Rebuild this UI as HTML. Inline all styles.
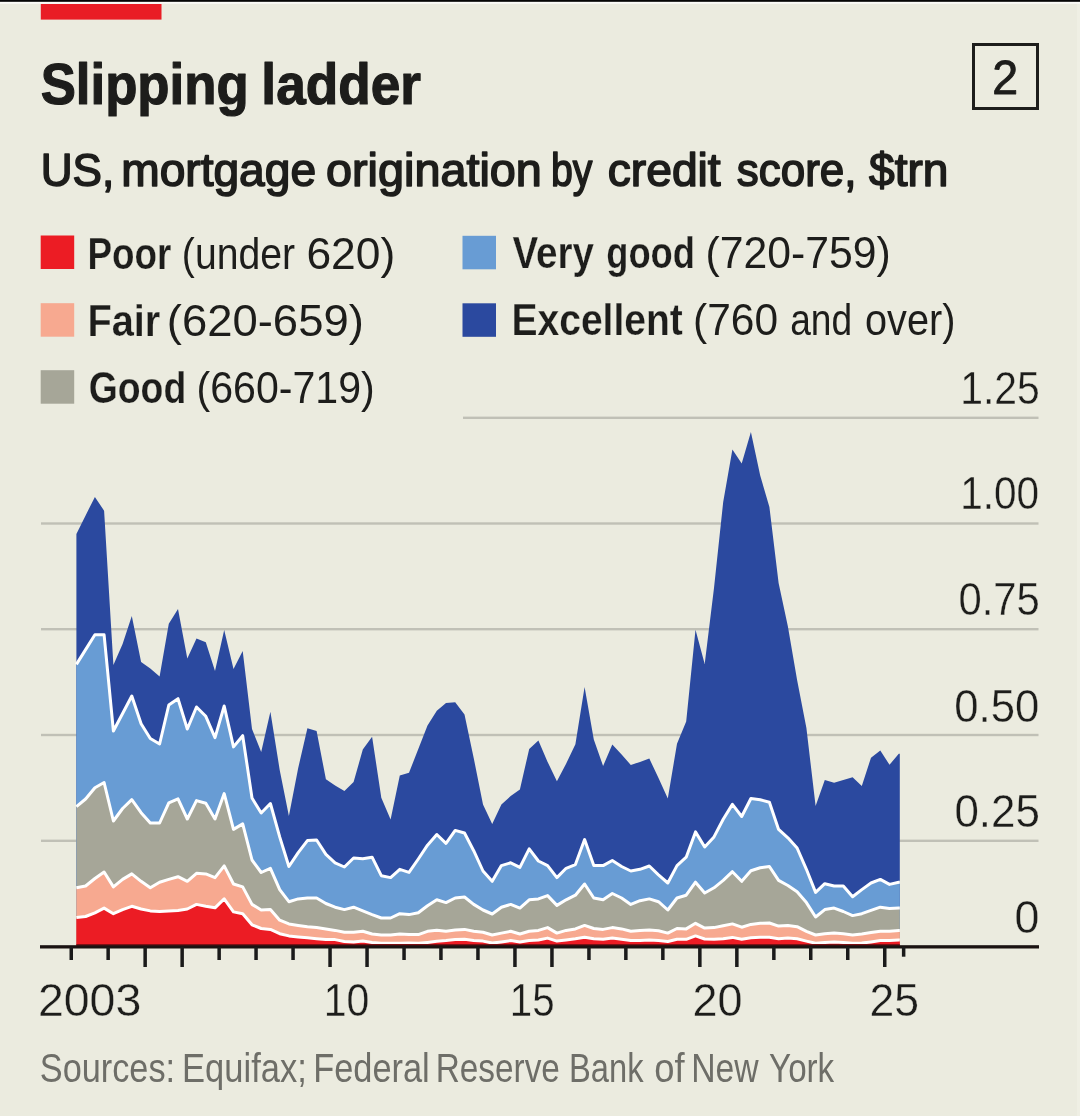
<!DOCTYPE html>
<html lang="en"><head><meta charset="utf-8"><title>Slipping ladder</title>
<style>html,body{margin:0;padding:0;background:#ebebdf}body{width:1080px;height:1116px;overflow:hidden}svg{display:block}text{font-family:"Liberation Sans",Arial,Helvetica,sans-serif}</style></head><body>
<svg width="1080" height="1116" viewBox="0 0 1080 1116">
<rect width="1080" height="1116" fill="#ebebdf"/>
<rect x="1077" y="0" width="3" height="1116" fill="#efefe4"/>
<rect x="0" y="0" width="1080" height="1.9" fill="#050505"/>
<rect x="0" y="1.9" width="1080" height="1.9" fill="#fbfbf7"/>
<rect x="40.8" y="4" width="120.7" height="15.6" fill="#e91d25"/>
<rect x="463" y="416.6" width="575.5" height="2.4" fill="#c0c0b6"/>
<rect x="41" y="522.3" width="997.5" height="2.4" fill="#c0c0b6"/>
<rect x="41" y="628.0" width="997.5" height="2.4" fill="#c0c0b6"/>
<rect x="41" y="733.8" width="997.5" height="2.4" fill="#c0c0b6"/>
<rect x="41" y="839.6" width="997.5" height="2.4" fill="#c0c0b6"/>
<path d="M76.4,946.5 L76.4,533.9 L85.6,515.4 L94.9,496.9 L104.1,510.7 L113.4,665.0 L122.6,644.0 L131.8,616.0 L141.1,662.0 L150.3,668.5 L159.6,676.5 L168.8,623.7 L178.0,608.9 L187.3,658.5 L196.5,638.5 L205.8,642.2 L215.0,671.0 L224.2,630.0 L233.5,669.0 L242.7,651.0 L252.0,729.0 L261.2,752.0 L270.4,711.7 L279.7,770.0 L288.9,816.0 L298.2,768.0 L307.4,728.3 L316.6,731.0 L325.9,779.3 L335.1,785.4 L344.4,791.0 L353.6,782.0 L362.8,749.6 L372.1,736.7 L381.3,797.8 L390.6,819.5 L399.8,775.6 L409.0,772.8 L418.3,749.0 L427.5,725.5 L436.8,710.8 L446.0,703.0 L455.2,702.2 L464.5,714.6 L473.7,758.0 L483.0,804.4 L492.2,823.9 L501.4,804.4 L510.7,796.0 L519.9,789.6 L529.2,748.9 L538.4,740.6 L547.6,761.9 L556.9,781.3 L566.1,763.7 L575.4,744.3 L584.6,686.9 L593.8,739.6 L603.1,766.0 L612.3,744.5 L621.6,754.4 L630.8,765.0 L640.0,761.9 L649.3,758.5 L658.5,778.0 L667.8,798.5 L677.0,743.7 L686.2,721.5 L695.5,629.8 L704.7,664.0 L714.0,588.0 L723.2,502.0 L732.4,449.6 L741.7,463.5 L750.9,432.0 L760.2,475.6 L769.4,507.0 L778.6,583.0 L787.9,626.5 L797.1,680.0 L806.4,728.0 L815.6,806.0 L824.8,780.0 L834.1,782.7 L843.3,780.0 L852.6,777.2 L861.8,786.0 L871.0,757.7 L880.3,750.4 L889.5,764.8 L898.8,753.7 L899.8,753.7 L899.8,946.5 Z" fill="#2b499f"/>
<path d="M76.4,946.5 L76.4,664.4 L85.6,649.6 L94.9,634.8 L104.1,634.8 L113.4,731.0 L122.6,713.5 L131.8,696.0 L141.1,723.7 L150.3,738.5 L159.6,744.0 L168.8,705.0 L178.0,698.7 L187.3,729.0 L196.5,707.0 L205.8,716.3 L215.0,737.6 L224.2,706.0 L233.5,746.9 L242.7,735.7 L252.0,798.0 L261.2,813.0 L270.4,803.5 L279.7,836.9 L288.9,866.5 L298.2,852.6 L307.4,840.6 L316.6,840.0 L325.9,854.4 L335.1,862.8 L344.4,867.0 L353.6,858.0 L362.8,858.7 L372.1,857.2 L381.3,875.7 L390.6,877.6 L399.8,869.3 L409.0,872.4 L418.3,859.0 L427.5,845.2 L436.8,834.5 L446.0,843.3 L455.2,830.4 L464.5,833.0 L473.7,850.7 L483.0,871.0 L492.2,881.3 L501.4,865.6 L510.7,862.8 L519.9,867.4 L529.2,848.9 L538.4,861.0 L547.6,865.6 L556.9,877.6 L566.1,868.3 L575.4,864.6 L584.6,839.6 L593.8,865.6 L603.1,865.6 L612.3,860.5 L621.6,866.5 L630.8,871.0 L640.0,869.3 L649.3,866.0 L658.5,874.8 L667.8,883.0 L677.0,865.6 L686.2,857.2 L695.5,831.9 L704.7,847.0 L714.0,836.9 L723.2,819.3 L732.4,804.4 L741.7,816.5 L750.9,798.5 L760.2,799.8 L769.4,802.2 L778.6,829.4 L787.9,837.8 L797.1,848.0 L806.4,869.3 L815.6,892.4 L824.8,883.7 L834.1,886.0 L843.3,886.0 L852.6,896.7 L861.8,889.6 L871.0,883.0 L880.3,879.4 L889.5,884.4 L898.8,882.2 L899.8,882.2 L899.8,946.5 Z" fill="#689cd4"/>
<path d="M76.4,946.5 L76.4,806.6 L85.6,799.0 L94.9,787.7 L104.1,782.5 L113.4,821.0 L122.6,808.5 L131.8,799.7 L141.1,812.7 L150.3,823.0 L159.6,823.0 L168.8,802.8 L178.0,798.8 L187.3,819.0 L196.5,800.6 L205.8,803.3 L215.0,819.0 L224.2,793.6 L233.5,829.4 L242.7,823.9 L252.0,860.0 L261.2,872.5 L270.4,868.3 L279.7,889.6 L288.9,901.7 L298.2,898.9 L307.4,898.0 L316.6,898.0 L325.9,903.5 L335.1,907.2 L344.4,909.6 L353.6,907.2 L362.8,910.9 L372.1,914.6 L381.3,918.0 L390.6,918.0 L399.8,913.7 L409.0,914.6 L418.3,912.8 L427.5,905.8 L436.8,899.8 L446.0,902.6 L455.2,898.0 L464.5,897.0 L473.7,904.4 L483.0,910.0 L492.2,914.0 L501.4,907.2 L510.7,904.4 L519.9,908.1 L529.2,899.8 L538.4,898.9 L547.6,895.6 L556.9,905.4 L566.1,899.8 L575.4,895.2 L584.6,884.0 L593.8,898.0 L603.1,899.8 L612.3,893.5 L621.6,898.0 L630.8,904.4 L640.0,900.7 L649.3,898.9 L658.5,901.7 L667.8,910.0 L677.0,898.0 L686.2,895.2 L695.5,882.2 L704.7,893.0 L714.0,887.8 L723.2,880.4 L732.4,871.7 L741.7,881.3 L750.9,870.7 L760.2,867.8 L769.4,866.5 L778.6,880.4 L787.9,885.5 L797.1,891.8 L806.4,902.6 L815.6,917.0 L824.8,909.6 L834.1,908.1 L843.3,911.5 L852.6,915.6 L861.8,913.7 L871.0,910.4 L880.3,907.2 L889.5,908.5 L898.8,908.1 L899.8,908.1 L899.8,946.5 Z" fill="#a6a698"/>
<path d="M76.4,946.5 L76.4,887.8 L85.6,886.0 L94.9,878.5 L104.1,872.0 L113.4,886.9 L122.6,879.4 L131.8,873.9 L141.1,881.3 L150.3,887.8 L159.6,882.2 L168.8,879.4 L178.0,876.7 L187.3,881.3 L196.5,873.3 L205.8,873.9 L215.0,877.6 L224.2,865.9 L233.5,884.0 L242.7,886.9 L252.0,904.4 L261.2,910.0 L270.4,909.6 L279.7,920.2 L288.9,923.9 L298.2,925.4 L307.4,926.7 L316.6,927.6 L325.9,928.9 L335.1,930.4 L344.4,932.2 L353.6,932.2 L362.8,931.3 L372.1,934.0 L381.3,935.0 L390.6,935.0 L399.8,934.0 L409.0,934.6 L418.3,934.6 L427.5,931.3 L436.8,930.2 L446.0,931.3 L455.2,930.0 L464.5,929.4 L473.7,931.3 L483.0,932.2 L492.2,935.0 L501.4,933.1 L510.7,931.3 L519.9,934.0 L529.2,931.3 L538.4,930.4 L547.6,927.6 L556.9,933.1 L566.1,930.4 L575.4,928.9 L584.6,925.4 L593.8,928.5 L603.1,929.4 L612.3,927.6 L621.6,928.9 L630.8,931.3 L640.0,930.4 L649.3,930.0 L658.5,930.7 L667.8,933.1 L677.0,928.5 L686.2,928.9 L695.5,923.3 L704.7,928.1 L714.0,927.6 L723.2,925.7 L732.4,923.9 L741.7,927.2 L750.9,924.4 L760.2,923.3 L769.4,923.0 L778.6,926.1 L787.9,925.4 L797.1,926.7 L806.4,931.3 L815.6,935.0 L824.8,933.7 L834.1,933.1 L843.3,933.7 L852.6,935.0 L861.8,934.0 L871.0,932.6 L880.3,931.3 L889.5,931.3 L898.8,930.4 L899.8,930.4 L899.8,946.5 Z" fill="#f7a990"/>
<path d="M76.4,946.5 L76.4,917.4 L85.6,916.5 L94.9,912.8 L104.1,908.1 L113.4,913.7 L122.6,909.6 L131.8,906.3 L141.1,909.0 L150.3,910.9 L159.6,911.5 L168.8,910.9 L178.0,910.4 L187.3,909.0 L196.5,904.4 L205.8,906.3 L215.0,907.8 L224.2,898.9 L233.5,911.9 L242.7,913.7 L252.0,924.8 L261.2,928.5 L270.4,929.4 L279.7,933.7 L288.9,935.9 L298.2,936.9 L307.4,937.8 L316.6,938.7 L325.9,939.6 L335.1,939.6 L344.4,941.5 L353.6,941.9 L362.8,941.1 L372.1,942.4 L381.3,943.3 L390.6,943.3 L399.8,943.3 L409.0,943.0 L418.3,943.3 L427.5,942.4 L436.8,941.3 L446.0,940.6 L455.2,939.6 L464.5,939.3 L473.7,940.6 L483.0,941.1 L492.2,943.0 L501.4,941.9 L510.7,940.6 L519.9,941.9 L529.2,940.6 L538.4,940.0 L547.6,938.1 L556.9,941.1 L566.1,940.0 L575.4,938.7 L584.6,937.2 L593.8,938.7 L603.1,939.3 L612.3,938.1 L621.6,939.3 L630.8,940.6 L640.0,940.6 L649.3,940.0 L658.5,940.6 L667.8,941.5 L677.0,939.3 L686.2,939.3 L695.5,935.9 L704.7,939.0 L714.0,939.3 L723.2,938.7 L732.4,937.4 L741.7,939.3 L750.9,937.8 L760.2,937.2 L769.4,937.2 L778.6,938.7 L787.9,938.1 L797.1,938.7 L806.4,941.1 L815.6,943.3 L824.8,942.4 L834.1,941.9 L843.3,942.4 L852.6,943.3 L861.8,943.0 L871.0,941.9 L880.3,940.6 L889.5,940.6 L898.8,940.0 L899.8,940.0 L899.8,946.5 Z" fill="#ec1c24"/>
<path d="M76.4,664.4 L85.6,649.6 L94.9,634.8 L104.1,634.8 L113.4,731.0 L122.6,713.5 L131.8,696.0 L141.1,723.7 L150.3,738.5 L159.6,744.0 L168.8,705.0 L178.0,698.7 L187.3,729.0 L196.5,707.0 L205.8,716.3 L215.0,737.6 L224.2,706.0 L233.5,746.9 L242.7,735.7 L252.0,798.0 L261.2,813.0 L270.4,803.5 L279.7,836.9 L288.9,866.5 L298.2,852.6 L307.4,840.6 L316.6,840.0 L325.9,854.4 L335.1,862.8 L344.4,867.0 L353.6,858.0 L362.8,858.7 L372.1,857.2 L381.3,875.7 L390.6,877.6 L399.8,869.3 L409.0,872.4 L418.3,859.0 L427.5,845.2 L436.8,834.5 L446.0,843.3 L455.2,830.4 L464.5,833.0 L473.7,850.7 L483.0,871.0 L492.2,881.3 L501.4,865.6 L510.7,862.8 L519.9,867.4 L529.2,848.9 L538.4,861.0 L547.6,865.6 L556.9,877.6 L566.1,868.3 L575.4,864.6 L584.6,839.6 L593.8,865.6 L603.1,865.6 L612.3,860.5 L621.6,866.5 L630.8,871.0 L640.0,869.3 L649.3,866.0 L658.5,874.8 L667.8,883.0 L677.0,865.6 L686.2,857.2 L695.5,831.9 L704.7,847.0 L714.0,836.9 L723.2,819.3 L732.4,804.4 L741.7,816.5 L750.9,798.5 L760.2,799.8 L769.4,802.2 L778.6,829.4 L787.9,837.8 L797.1,848.0 L806.4,869.3 L815.6,892.4 L824.8,883.7 L834.1,886.0 L843.3,886.0 L852.6,896.7 L861.8,889.6 L871.0,883.0 L880.3,879.4 L889.5,884.4 L898.8,882.2 L899.8,882.2" fill="none" stroke="#fff" stroke-width="3" stroke-linejoin="round"/>
<path d="M76.4,806.6 L85.6,799.0 L94.9,787.7 L104.1,782.5 L113.4,821.0 L122.6,808.5 L131.8,799.7 L141.1,812.7 L150.3,823.0 L159.6,823.0 L168.8,802.8 L178.0,798.8 L187.3,819.0 L196.5,800.6 L205.8,803.3 L215.0,819.0 L224.2,793.6 L233.5,829.4 L242.7,823.9 L252.0,860.0 L261.2,872.5 L270.4,868.3 L279.7,889.6 L288.9,901.7 L298.2,898.9 L307.4,898.0 L316.6,898.0 L325.9,903.5 L335.1,907.2 L344.4,909.6 L353.6,907.2 L362.8,910.9 L372.1,914.6 L381.3,918.0 L390.6,918.0 L399.8,913.7 L409.0,914.6 L418.3,912.8 L427.5,905.8 L436.8,899.8 L446.0,902.6 L455.2,898.0 L464.5,897.0 L473.7,904.4 L483.0,910.0 L492.2,914.0 L501.4,907.2 L510.7,904.4 L519.9,908.1 L529.2,899.8 L538.4,898.9 L547.6,895.6 L556.9,905.4 L566.1,899.8 L575.4,895.2 L584.6,884.0 L593.8,898.0 L603.1,899.8 L612.3,893.5 L621.6,898.0 L630.8,904.4 L640.0,900.7 L649.3,898.9 L658.5,901.7 L667.8,910.0 L677.0,898.0 L686.2,895.2 L695.5,882.2 L704.7,893.0 L714.0,887.8 L723.2,880.4 L732.4,871.7 L741.7,881.3 L750.9,870.7 L760.2,867.8 L769.4,866.5 L778.6,880.4 L787.9,885.5 L797.1,891.8 L806.4,902.6 L815.6,917.0 L824.8,909.6 L834.1,908.1 L843.3,911.5 L852.6,915.6 L861.8,913.7 L871.0,910.4 L880.3,907.2 L889.5,908.5 L898.8,908.1 L899.8,908.1" fill="none" stroke="#fff" stroke-width="3" stroke-linejoin="round"/>
<path d="M76.4,887.8 L85.6,886.0 L94.9,878.5 L104.1,872.0 L113.4,886.9 L122.6,879.4 L131.8,873.9 L141.1,881.3 L150.3,887.8 L159.6,882.2 L168.8,879.4 L178.0,876.7 L187.3,881.3 L196.5,873.3 L205.8,873.9 L215.0,877.6 L224.2,865.9 L233.5,884.0 L242.7,886.9 L252.0,904.4 L261.2,910.0 L270.4,909.6 L279.7,920.2 L288.9,923.9 L298.2,925.4 L307.4,926.7 L316.6,927.6 L325.9,928.9 L335.1,930.4 L344.4,932.2 L353.6,932.2 L362.8,931.3 L372.1,934.0 L381.3,935.0 L390.6,935.0 L399.8,934.0 L409.0,934.6 L418.3,934.6 L427.5,931.3 L436.8,930.2 L446.0,931.3 L455.2,930.0 L464.5,929.4 L473.7,931.3 L483.0,932.2 L492.2,935.0 L501.4,933.1 L510.7,931.3 L519.9,934.0 L529.2,931.3 L538.4,930.4 L547.6,927.6 L556.9,933.1 L566.1,930.4 L575.4,928.9 L584.6,925.4 L593.8,928.5 L603.1,929.4 L612.3,927.6 L621.6,928.9 L630.8,931.3 L640.0,930.4 L649.3,930.0 L658.5,930.7 L667.8,933.1 L677.0,928.5 L686.2,928.9 L695.5,923.3 L704.7,928.1 L714.0,927.6 L723.2,925.7 L732.4,923.9 L741.7,927.2 L750.9,924.4 L760.2,923.3 L769.4,923.0 L778.6,926.1 L787.9,925.4 L797.1,926.7 L806.4,931.3 L815.6,935.0 L824.8,933.7 L834.1,933.1 L843.3,933.7 L852.6,935.0 L861.8,934.0 L871.0,932.6 L880.3,931.3 L889.5,931.3 L898.8,930.4 L899.8,930.4" fill="none" stroke="#fff" stroke-width="3" stroke-linejoin="round"/>
<path d="M76.4,917.4 L85.6,916.5 L94.9,912.8 L104.1,908.1 L113.4,913.7 L122.6,909.6 L131.8,906.3 L141.1,909.0 L150.3,910.9 L159.6,911.5 L168.8,910.9 L178.0,910.4 L187.3,909.0 L196.5,904.4 L205.8,906.3 L215.0,907.8 L224.2,898.9 L233.5,911.9 L242.7,913.7 L252.0,924.8 L261.2,928.5 L270.4,929.4 L279.7,933.7 L288.9,935.9 L298.2,936.9 L307.4,937.8 L316.6,938.7 L325.9,939.6 L335.1,939.6 L344.4,941.5 L353.6,941.9 L362.8,941.1 L372.1,942.4 L381.3,943.3 L390.6,943.3 L399.8,943.3 L409.0,943.0 L418.3,943.3 L427.5,942.4 L436.8,941.3 L446.0,940.6 L455.2,939.6 L464.5,939.3 L473.7,940.6 L483.0,941.1 L492.2,943.0 L501.4,941.9 L510.7,940.6 L519.9,941.9 L529.2,940.6 L538.4,940.0 L547.6,938.1 L556.9,941.1 L566.1,940.0 L575.4,938.7 L584.6,937.2 L593.8,938.7 L603.1,939.3 L612.3,938.1 L621.6,939.3 L630.8,940.6 L640.0,940.6 L649.3,940.0 L658.5,940.6 L667.8,941.5 L677.0,939.3 L686.2,939.3 L695.5,935.9 L704.7,939.0 L714.0,939.3 L723.2,938.7 L732.4,937.4 L741.7,939.3 L750.9,937.8 L760.2,937.2 L769.4,937.2 L778.6,938.7 L787.9,938.1 L797.1,938.7 L806.4,941.1 L815.6,943.3 L824.8,942.4 L834.1,941.9 L843.3,942.4 L852.6,943.3 L861.8,943.0 L871.0,941.9 L880.3,940.6 L889.5,940.6 L898.8,940.0 L899.8,940.0" fill="none" stroke="#fff" stroke-width="3" stroke-linejoin="round"/>
<rect x="76.4" y="944" width="823.4" height="1.6" fill="#7d1014"/>
<rect x="40" y="945.2" width="999" height="3.3" fill="#1a1211"/>
<rect x="69.5" y="947" width="3.5" height="13" fill="#1a1a1a"/>
<rect x="106.4" y="947" width="3.5" height="13" fill="#1a1a1a"/>
<rect x="143.4" y="947" width="3.5" height="20" fill="#1a1a1a"/>
<rect x="180.4" y="947" width="3.5" height="20" fill="#1a1a1a"/>
<rect x="217.4" y="947" width="3.5" height="13" fill="#1a1a1a"/>
<rect x="254.3" y="947" width="3.5" height="13" fill="#1a1a1a"/>
<rect x="291.3" y="947" width="3.5" height="13" fill="#1a1a1a"/>
<rect x="328.3" y="947" width="3.5" height="20" fill="#1a1a1a"/>
<rect x="365.3" y="947" width="3.5" height="20" fill="#1a1a1a"/>
<rect x="402.3" y="947" width="3.5" height="13" fill="#1a1a1a"/>
<rect x="439.2" y="947" width="3.5" height="13" fill="#1a1a1a"/>
<rect x="476.2" y="947" width="3.5" height="13" fill="#1a1a1a"/>
<rect x="513.2" y="947" width="3.5" height="20" fill="#1a1a1a"/>
<rect x="550.2" y="947" width="3.5" height="20" fill="#1a1a1a"/>
<rect x="587.2" y="947" width="3.5" height="13" fill="#1a1a1a"/>
<rect x="624.1" y="947" width="3.5" height="13" fill="#1a1a1a"/>
<rect x="661.1" y="947" width="3.5" height="13" fill="#1a1a1a"/>
<rect x="698.1" y="947" width="3.5" height="20" fill="#1a1a1a"/>
<rect x="735.1" y="947" width="3.5" height="20" fill="#1a1a1a"/>
<rect x="772.1" y="947" width="3.5" height="13" fill="#1a1a1a"/>
<rect x="809.0" y="947" width="3.5" height="13" fill="#1a1a1a"/>
<rect x="846.0" y="947" width="3.5" height="13" fill="#1a1a1a"/>
<rect x="883.0" y="947" width="3.5" height="20" fill="#1a1a1a"/>
<rect x="901.9" y="947" width="3.5" height="9.7" fill="#1a1a1a"/>
<text y="103.6" font-size="58" fill="#1d1d1b"><tspan x="40.68" font-weight="bold" textLength="208.00" lengthAdjust="spacingAndGlyphs" stroke="#1d1d1b" stroke-width="1.2" stroke-linejoin="round">Slipping</tspan> <tspan x="261.37" font-weight="bold" textLength="159.68" lengthAdjust="spacingAndGlyphs" stroke="#1d1d1b" stroke-width="1.2" stroke-linejoin="round">ladder</tspan></text>
<rect x="973.5" y="44.5" width="64" height="64" fill="none" stroke="#1d1d1b" stroke-width="3"/>
<text y="94.2" font-size="48" fill="#1d1d1b"><tspan x="992.27" textLength="25.86" lengthAdjust="spacingAndGlyphs" stroke="#1d1d1b" stroke-width="0.9" stroke-linejoin="round">2</tspan></text>
<text y="186" font-size="46.5" fill="#1d1d1b"><tspan x="40.75" textLength="73.45" lengthAdjust="spacingAndGlyphs" stroke="#1d1d1b" stroke-width="1.6" stroke-linejoin="round">US,</tspan> <tspan x="121.22" textLength="194.85" lengthAdjust="spacingAndGlyphs" stroke="#1d1d1b" stroke-width="1.6" stroke-linejoin="round">mortgage</tspan> <tspan x="326.04" textLength="215.79" lengthAdjust="spacingAndGlyphs" stroke="#1d1d1b" stroke-width="1.6" stroke-linejoin="round">origination</tspan> <tspan x="551.05" textLength="41.45" lengthAdjust="spacingAndGlyphs" stroke="#1d1d1b" stroke-width="1.6" stroke-linejoin="round">by</tspan> <tspan x="607.65" textLength="113.09" lengthAdjust="spacingAndGlyphs" stroke="#1d1d1b" stroke-width="1.6" stroke-linejoin="round">credit</tspan> <tspan x="736.81" textLength="119.67" lengthAdjust="spacingAndGlyphs" stroke="#1d1d1b" stroke-width="1.6" stroke-linejoin="round">score,</tspan> <tspan x="869.10" textLength="79.39" lengthAdjust="spacingAndGlyphs" stroke="#1d1d1b" stroke-width="1.6" stroke-linejoin="round">$trn</tspan></text>
<rect x="40.7" y="235.5" width="33.5" height="33.5" fill="#ec1c24"/>
<text y="268.7" font-size="45" fill="#1d1d1b"><tspan x="87.58" font-weight="bold" textLength="83.77" lengthAdjust="spacingAndGlyphs" stroke="#ebebdf" stroke-width="0.25" stroke-linejoin="round">Poor</tspan> <tspan x="181.87" textLength="113.13" lengthAdjust="spacingAndGlyphs">(under</tspan> <tspan x="306.42" textLength="88.88" lengthAdjust="spacingAndGlyphs">620)</tspan></text>
<rect x="40.7" y="303.2" width="33.5" height="33.5" fill="#f7a990"/>
<text y="336.2" font-size="45" fill="#1d1d1b"><tspan x="87.39" font-weight="bold" textLength="72.90" lengthAdjust="spacingAndGlyphs" stroke="#ebebdf" stroke-width="0.25" stroke-linejoin="round">Fair</tspan> <tspan x="166.77" textLength="197.08" lengthAdjust="spacingAndGlyphs">(620-659)</tspan></text>
<rect x="40.7" y="370.2" width="33.5" height="33.5" fill="#a6a698"/>
<text y="403.4" font-size="45" fill="#1d1d1b"><tspan x="88.71" font-weight="bold" textLength="97.51" lengthAdjust="spacingAndGlyphs" stroke="#ebebdf" stroke-width="0.25" stroke-linejoin="round">Good</tspan> <tspan x="196.57" textLength="178.15" lengthAdjust="spacingAndGlyphs">(660-719)</tspan></text>
<rect x="462.5" y="235.8" width="33.5" height="33.5" fill="#689cd4"/>
<text y="267.5" font-size="45" fill="#1d1d1b"><tspan x="512.38" font-weight="bold" textLength="81.51" lengthAdjust="spacingAndGlyphs" stroke="#ebebdf" stroke-width="0.25" stroke-linejoin="round">Very</tspan> <tspan x="606.24" font-weight="bold" textLength="88.71" lengthAdjust="spacingAndGlyphs" stroke="#ebebdf" stroke-width="0.25" stroke-linejoin="round">good</tspan> <tspan x="705.50" textLength="185.21" lengthAdjust="spacingAndGlyphs">(720-759)</tspan></text>
<rect x="462.5" y="303.3" width="33.5" height="33.5" fill="#2b499f"/>
<text y="335.2" font-size="45" fill="#1d1d1b"><tspan x="511.44" font-weight="bold" textLength="171.38" lengthAdjust="spacingAndGlyphs" stroke="#ebebdf" stroke-width="0.25" stroke-linejoin="round">Excellent</tspan> <tspan x="693.01" textLength="85.05" lengthAdjust="spacingAndGlyphs">(760</tspan> <tspan x="790.14" textLength="61.94" lengthAdjust="spacingAndGlyphs">and</tspan> <tspan x="865.06" textLength="90.29" lengthAdjust="spacingAndGlyphs">over)</tspan></text>
<text y="403.5" font-size="47" fill="#1d1d1b"><tspan x="960.27" textLength="79.56" lengthAdjust="spacingAndGlyphs" stroke="#ebebdf" stroke-width="0.35" stroke-linejoin="round">1.25</tspan></text>
<text y="509.2" font-size="47" fill="#1d1d1b"><tspan x="960.29" textLength="78.89" lengthAdjust="spacingAndGlyphs" stroke="#ebebdf" stroke-width="0.35" stroke-linejoin="round">1.00</tspan></text>
<text y="615" font-size="47" fill="#1d1d1b"><tspan x="958.52" textLength="81.35" lengthAdjust="spacingAndGlyphs" stroke="#ebebdf" stroke-width="0.35" stroke-linejoin="round">0.75</tspan></text>
<text y="721.8" font-size="47" fill="#1d1d1b"><tspan x="954.26" textLength="85.00" lengthAdjust="spacingAndGlyphs" stroke="#ebebdf" stroke-width="0.35" stroke-linejoin="round">0.50</tspan></text>
<text y="827.3" font-size="47" fill="#1d1d1b"><tspan x="954.45" textLength="85.50" lengthAdjust="spacingAndGlyphs" stroke="#ebebdf" stroke-width="0.35" stroke-linejoin="round">0.25</tspan></text>
<text y="933" font-size="47" fill="#1d1d1b"><tspan x="1014.43" textLength="24.86" lengthAdjust="spacingAndGlyphs" stroke="#ebebdf" stroke-width="0.35" stroke-linejoin="round">0</tspan></text>
<text y="1015.6" font-size="47" fill="#1d1d1b"><tspan x="37.95" textLength="103.31" lengthAdjust="spacingAndGlyphs" stroke="#ebebdf" stroke-width="0.35" stroke-linejoin="round">2003</tspan> <tspan x="323.67" textLength="45.53" lengthAdjust="spacingAndGlyphs" stroke="#ebebdf" stroke-width="0.35" stroke-linejoin="round">10</tspan> <tspan x="509.81" textLength="44.80" lengthAdjust="spacingAndGlyphs" stroke="#ebebdf" stroke-width="0.35" stroke-linejoin="round">15</tspan> <tspan x="692.42" textLength="49.97" lengthAdjust="spacingAndGlyphs" stroke="#ebebdf" stroke-width="0.35" stroke-linejoin="round">20</tspan> <tspan x="869.44" textLength="49.54" lengthAdjust="spacingAndGlyphs" stroke="#ebebdf" stroke-width="0.35" stroke-linejoin="round">25</tspan></text>
<text y="1082" font-size="40" fill="#6e6e68"><tspan x="39.83" textLength="135.27" lengthAdjust="spacingAndGlyphs">Sources:</tspan> <tspan x="182.10" textLength="124.67" lengthAdjust="spacingAndGlyphs">Equifax;</tspan> <tspan x="313.21" textLength="116.55" lengthAdjust="spacingAndGlyphs">Federal</tspan> <tspan x="435.70" textLength="124.16" lengthAdjust="spacingAndGlyphs">Reserve</tspan> <tspan x="569.05" textLength="74.44" lengthAdjust="spacingAndGlyphs">Bank</tspan> <tspan x="654.36" textLength="30.31" lengthAdjust="spacingAndGlyphs">of</tspan> <tspan x="691.17" textLength="67.42" lengthAdjust="spacingAndGlyphs">New</tspan> <tspan x="769.08" textLength="65.10" lengthAdjust="spacingAndGlyphs">York</tspan></text>
</svg></body></html>
